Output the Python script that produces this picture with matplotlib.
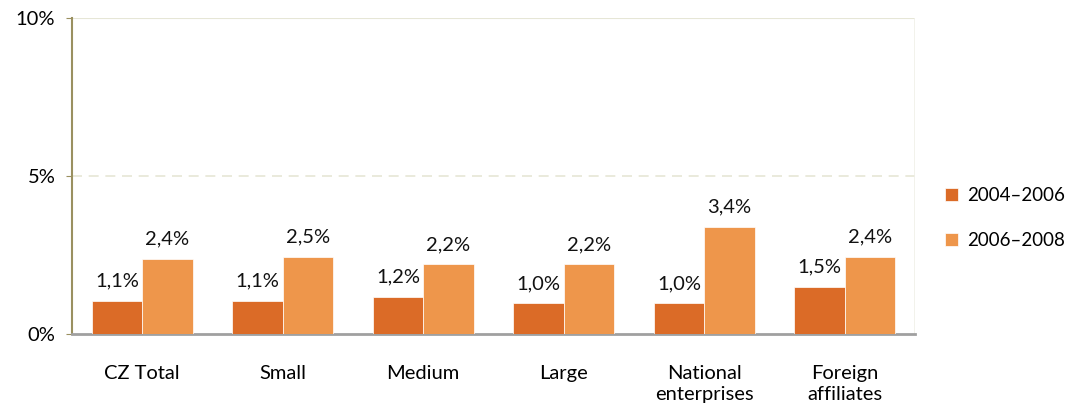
import matplotlib.pyplot as plt
import numpy as np

plt.rcParams['font.family'] = ['Lato', 'DejaVu Sans']

categories = ["CZ Total", "Small", "Medium", "Large", "National\nenterprises", "Foreign\naffiliates"]
series_names = ["2004\u20132006", "2006\u20132008"]
vals_0406 = [1.05, 1.05, 1.18, 0.98, 0.98, 1.50]
vals_0608 = [2.38, 2.45, 2.20, 2.20, 3.40, 2.45]
labels_0406 = ["1,1%", "1,1%", "1,2%", "1,0%", "1,0%", "1,5%"]
labels_0608 = ["2,4%", "2,5%", "2,2%", "2,2%", "3,4%", "2,4%"]
colors = ["#db6b27", "#ee964b"]

fig = plt.figure(figsize=(10.79, 4.12), dpi=100)
ax = fig.add_axes([72 / 1079, (412 - 334) / 412, (915 - 72) / 1079, 316 / 412])

x = np.arange(len(categories))
w = 0.36
b1 = ax.bar(x - w / 2, vals_0406, w, color=colors[0], label=series_names[0], zorder=3,
            edgecolor="white", linewidth=0.5)
b2 = ax.bar(x + w / 2, vals_0608, w, color=colors[1], label=series_names[1], zorder=3,
            edgecolor="white", linewidth=0.5)

fs = 14.5
for bars, labs in [(b1, labels_0406), (b2, labels_0608)]:
    for bar, lab in zip(bars, labs):
        ax.text(bar.get_x() + bar.get_width() / 2, bar.get_height() + 0.35, lab,
                ha="center", va="bottom", fontsize=fs, color="#111111")

ax.set_xlim(-0.5, len(categories) - 0.5)
ax.set_ylim(0, 10)
ax.set_yticks([0, 5, 10])
ax.set_yticklabels(["0%", "5%", "10%"], fontsize=fs)
ax.set_xticks(x)
ax.set_xticklabels(categories, fontsize=fs, linespacing=1.35)
ax.tick_params(axis="x", length=0, pad=22)
ax.tick_params(axis="y", length=4, color="#9a9060", pad=8)

# grid lines
ax.axhline(5, color="#e6e6d6", linestyle=(0, (6, 4)), linewidth=1.2, zorder=1)
ax.axhline(10, color="#e6e6d6", linewidth=1.5, zorder=1)

for side in ["top", "right"]:
    ax.spines[side].set_visible(False)
ax.axvline(len(categories) - 0.5, color="#f0f0e8", linewidth=1.2, zorder=1)
ax.spines["left"].set_color("#9a9060")
ax.spines["left"].set_linewidth(1.5)
ax.spines["bottom"].set_color("#a0a0a0")
ax.spines["bottom"].set_linewidth(2)

fig.legend(handles=[b1, b2], labels=series_names, loc="center left",
           bbox_to_anchor=(945 / 1079, (412 - 218) / 412), frameon=False,
           fontsize=13.5, handlelength=0.7, handleheight=0.7, handletextpad=0.5,
           labelspacing=1.5, borderaxespad=0, borderpad=0)

fig.savefig("out.png", dpi=100)
